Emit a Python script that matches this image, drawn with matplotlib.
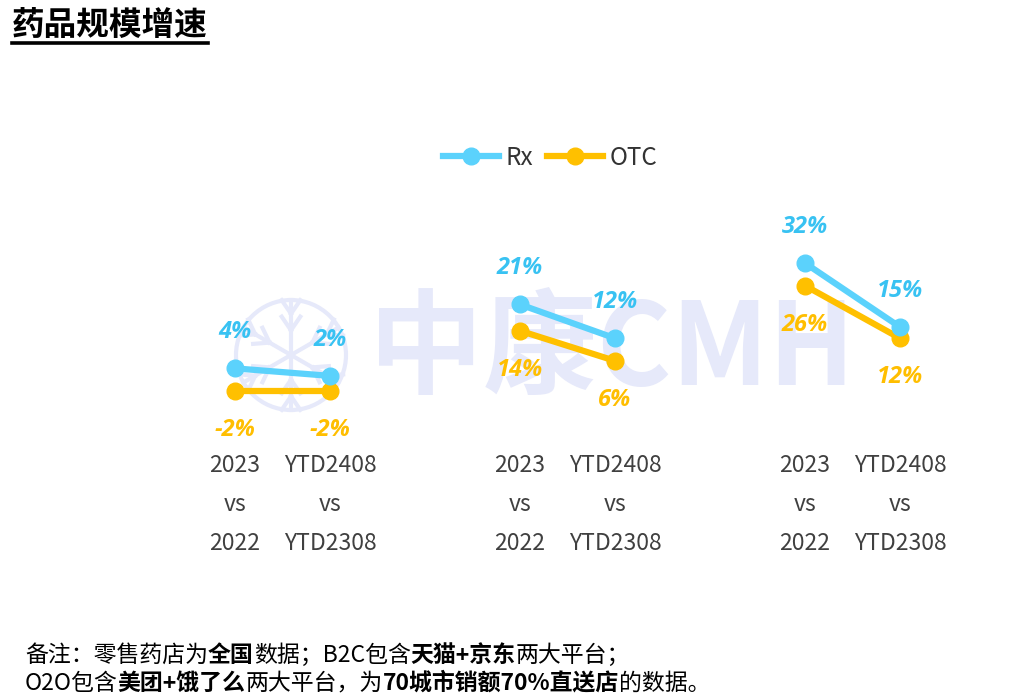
import matplotlib
matplotlib.use("Agg")
import matplotlib.pyplot as plt
from matplotlib.lines import Line2D
from matplotlib.patches import Circle
import math

plt.rcParams['font.family'] = ['Noto Sans CJK SC', 'DejaVu Sans']

# ---- data ----
x_labels = ["2023\nvs\n2022", "YTD2408\nvs\nYTD2308",
            "2023\nvs\n2022", "YTD2408\nvs\nYTD2308",
            "2023\nvs\n2022", "YTD2408\nvs\nYTD2308"]
rx_values = [4, 2, 21, 12, 32, 15]
otc_values = [-2, -2, 14, 6, 26, 12]
series_names = ["Rx", "OTC"]
title = "药品规模增速"
note_line1 = [("备注：零售药店为", False), ("全国", True), ("数据；B2C包含", False),
              ("天猫+京东", True), ("两大平台；", False)]
note_line2 = [("O2O包含", False), ("美团+饿了么", True), ("两大平台，为", False),
              ("70城市销额70%直送店", True), ("的数据。", False)]

RX_C = "#5BD2FC"
OTC_C = "#FFC000"
RX_T = "#38C2F2"
OTC_T = "#FFBE00"
WM_C = "#E6E9FA"

positions = [0, 1, 3, 4, 6, 7]

fig = plt.figure(figsize=(10.28, 7.0), dpi=100)

# watermark layer (behind everything)
wm_ax = fig.add_axes([0, 0, 1, 1], zorder=-1)
wm_ax.set_xlim(0, 1028); wm_ax.set_ylim(700, 0); wm_ax.axis('off')
wm_ax.text(612, 352, "中康CMH", fontsize=82, color=WM_C, ha='center', va='center',
           fontweight='bold', zorder=0)
cx, cy, r = 291, 355, 55
wm_ax.add_patch(Circle((cx, cy), r, fill=False, ec=WM_C, lw=3))
for k in range(6):
    a = math.pi/2 + k*math.pi/3
    wm_ax.plot([cx, cx + r*math.cos(a)], [cy, cy + r*math.sin(a)], color=WM_C, lw=3)
    for s in (0.45, 0.75):
        px, py = cx + r*s*math.cos(a), cy + r*s*math.sin(a)
        for d in (-0.5, 0.5):
            b = a + d*1.2
            wm_ax.plot([px, px + r*0.3*math.cos(b)], [py, py + r*0.3*math.sin(b)],
                       color=WM_C, lw=3)

ax = fig.add_axes([140/1028, (700-421)/700, 855/1028, 188/700], zorder=1)
ax.set_xlim(-1, 8)
ax.set_ylim(-10, 40)
ax.axis('off')

for g in range(3):
    i, j = 2*g, 2*g+1
    xs = [positions[i], positions[j]]
    ax.plot(xs, [otc_values[i], otc_values[j]], color=OTC_C, lw=4.5, marker='o',
            markersize=12, zorder=3, solid_capstyle='round')
    ax.plot(xs, [rx_values[i], rx_values[j]], color=RX_C, lw=4.5, marker='o',
            markersize=12, zorder=4, solid_capstyle='round')

for k, p in enumerate(positions):
    ax.annotate(f"{rx_values[k]}%", (p, rx_values[k]), xytext=(0, 26), textcoords='offset points',
                ha='center', va='center', color=RX_T, fontsize=17, fontweight='bold',
                style='italic', family=['Open Sans', 'DejaVu Sans'])
    ax.annotate(f"{otc_values[k]}%", (p, otc_values[k]), xytext=(0, -28), textcoords='offset points',
                ha='center', va='center', color=OTC_T, fontsize=17, fontweight='bold',
                style='italic', family=['Open Sans', 'DejaVu Sans'])

# x labels
for k, p in enumerate(positions):
    lines = x_labels[k].split("\n")
    xf = (140 + (p + 1) * 95) / 1028
    for li, t in enumerate(lines):
        yp = 466 + li * 38.5
        fig.text(xf, 1 - yp/700, t, ha='center', va='center', fontsize=16.5, color="#404040")

# legend
handles = [Line2D([], [], color=RX_C, lw=4.5, marker='o', markersize=12),
           Line2D([], [], color=OTC_C, lw=4.5, marker='o', markersize=12)]
fig.legend(handles, series_names, loc='center', bbox_to_anchor=(550/1028, 1-158/700),
           ncol=2, frameon=False, fontsize=17.5, handlelength=2.3, columnspacing=0.6,
           handletextpad=0.25, labelcolor="#333333")

# title
tt = fig.text(12/1028, 1-25/700, title, fontsize=23.5, fontweight='bold', ha='left', va='center',
              color='black')
fig.canvas.draw()
renderer = fig.canvas.get_renderer()
bb = tt.get_window_extent(renderer)
x0, x1 = bb.x0 / 1028, bb.x1 / 1028
fig.add_artist(Line2D([x0, x1], [1-43/700, 1-43/700], color='black', lw=2.6,
                      transform=fig.transFigure))

# footnote
def draw_segments(segs, x_px, y_px, fs):
    x = x_px
    for txt, bold in segs:
        t = fig.text(x/1028, 1-y_px/700, txt, fontsize=fs, ha='left', va='center',
                     fontweight='bold' if bold else 'normal', color='black')
        fig.canvas.draw()
        e = t.get_window_extent(fig.canvas.get_renderer())
        x = e.x1

draw_segments(note_line1, 25, 655, 16.5)
draw_segments(note_line2, 25, 683, 16.5)

fig.savefig("out.png", dpi=100)
